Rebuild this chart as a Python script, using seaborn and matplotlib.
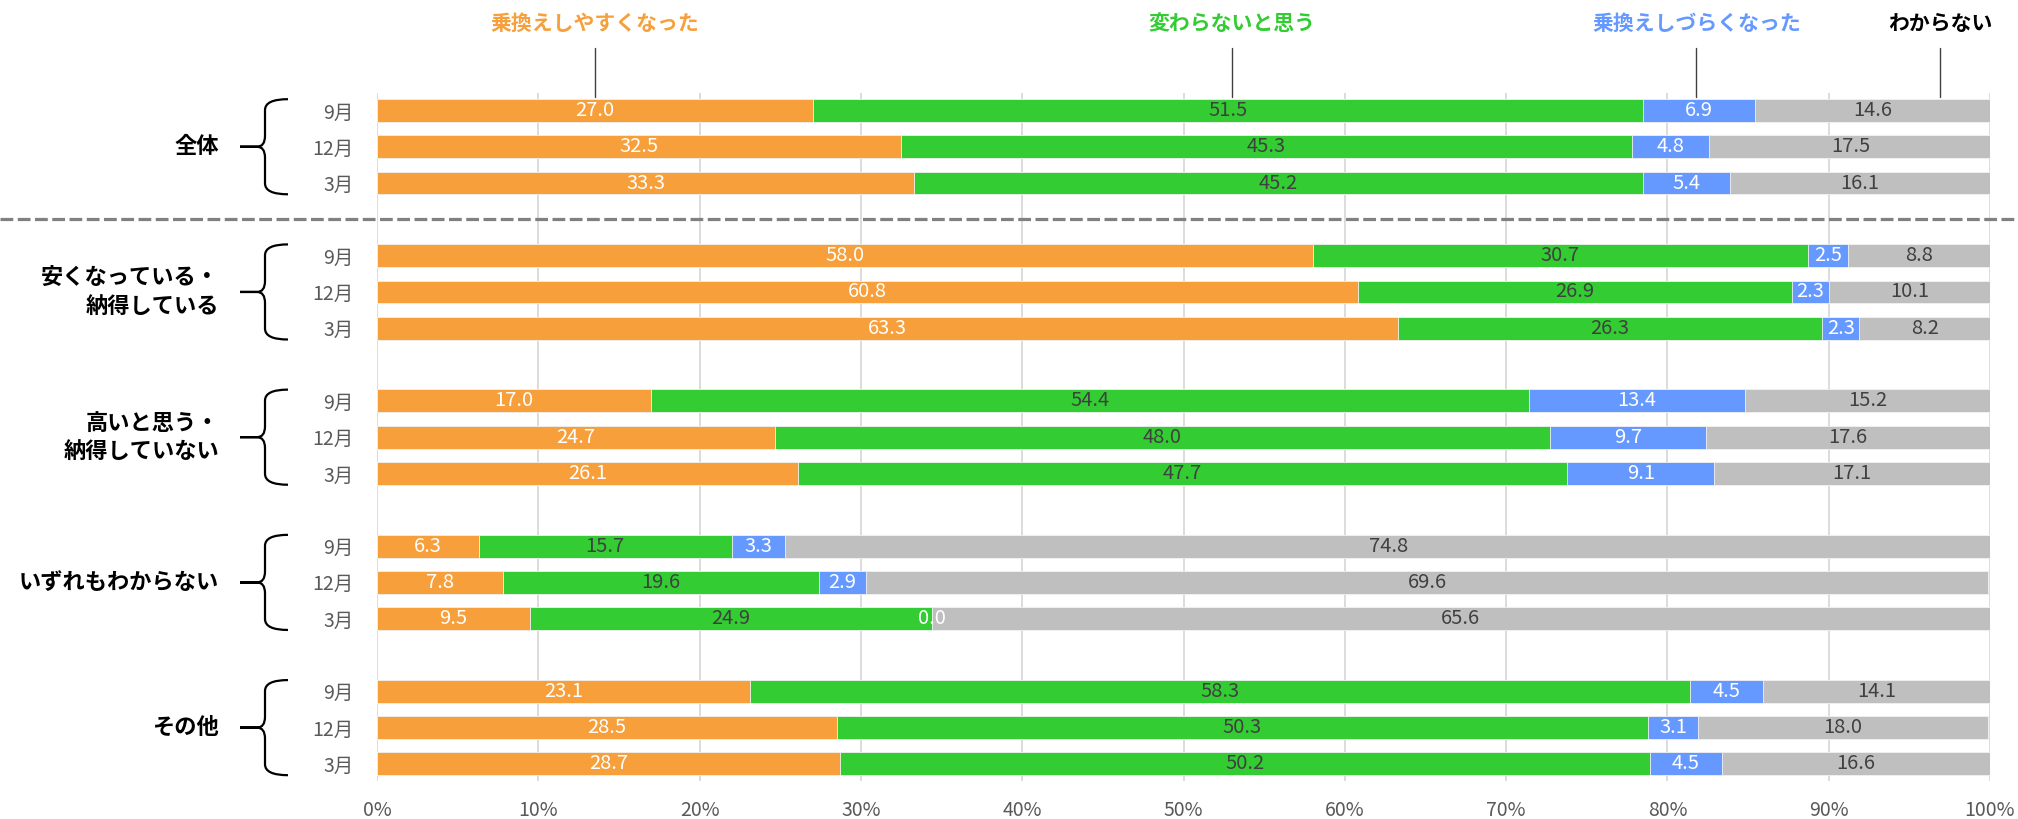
import numpy as np
import pandas as pd
import matplotlib
matplotlib.use("Agg")
import matplotlib.pyplot as plt
import matplotlib.transforms as mtransforms
from matplotlib.path import Path
from matplotlib.patches import PathPatch
import seaborn as sns

# ---------------- data ----------------
groups = ["全体", "安くなっている・\n納得している", "高いと思う・\n納得していない", "いずれもわからない", "その他"]
months = ["9月", "12月", "3月"]
series = ["乗換えしやすくなった", "変わらないと思う", "乗換えしづらくなった", "わからない"]

easier = [27.0, 32.5, 33.3, 58.0, 60.8, 63.3, 17.0, 24.7, 26.1, 6.3, 7.8, 9.5, 23.1, 28.5, 28.7]
same = [51.5, 45.3, 45.2, 30.7, 26.9, 26.3, 54.4, 48.0, 47.7, 15.7, 19.6, 24.9, 58.3, 50.3, 50.2]
harder = [6.9, 4.8, 5.4, 2.5, 2.3, 2.3, 13.4, 9.7, 9.1, 3.3, 2.9, 0.0, 4.5, 3.1, 4.5]
unknown = [14.6, 17.5, 16.1, 8.8, 10.1, 8.2, 15.2, 17.6, 17.1, 74.8, 69.6, 65.6, 14.1, 18.0, 16.6]

xticks = [0, 10, 20, 30, 40, 50, 60, 70, 80, 90, 100]
xticklabels = [f"{t}%" for t in xticks]

colors = ["#F79F3B", "#33CC33", "#6699FF", "#BFBFBF"]
label_colors = ["white", "#404040", "white", "#404040"]
legend_colors = ["#F79F3B", "#33CC33", "#6699FF", "#000000"]
legend_x = [13.5, 53.0, 81.8, 96.9]

# ---------------- style ----------------
sns.set_style("white")
plt.rcParams["font.family"] = ["Noto Sans CJK JP", "DejaVu Sans"]

W, H = 2018, 819
fig = plt.figure(figsize=(W / 100, H / 100), dpi=100)
ax_left, ax_right, ax_top, ax_bot = 377, 1990, 93, 781
ax = fig.add_axes([ax_left / W, (H - ax_bot) / H, (ax_right - ax_left) / W, (ax_bot - ax_top) / H])

# positions: 3 bars per group, one empty slot between groups
pos = []
for g in range(len(groups)):
    for m in range(len(months)):
        pos.append(g * 4 + m)
pos = np.array(pos, dtype=float)

vals = np.array([easier, same, harder, unknown])
cum = np.cumsum(vals, axis=0)
df = pd.DataFrame({"pos": pos})
for k in range(4):
    df[f"cum{k}"] = cum[k]

# gridlines behind
for t in xticks:
    ax.axvline(t, color="#D9D9D9", lw=1.3, zorder=0)

# stacked bars: draw from largest cumulative down
for k in reversed(range(4)):
    sns.barplot(data=df, x=f"cum{k}", y="pos", orient="h", native_scale=True,
                color=colors[k], saturation=1, width=0.63, errorbar=None,
                edgecolor="#F2F2F2", linewidth=0.6, ax=ax, zorder=2)

# value labels
for k in range(4):
    starts = cum[k] - vals[k]
    for i in range(len(pos)):
        ax.text(starts[i] + vals[k][i] / 2, pos[i], f"{vals[k][i]:.1f}",
                ha="center", va="center", color=label_colors[k], fontsize=14.5, zorder=5)

ax.set_xlim(0, 100)
ax.set_ylim(18.47, -0.48)
ax.set_xticks(xticks)
ax.set_xticklabels(xticklabels, fontsize=14, color="#595959")
ax.set_yticks(pos)
ax.set_yticklabels(months * len(groups), fontsize=14, color="#595959")
ax.tick_params(axis="x", length=0, pad=14)
ax.tick_params(axis="y", length=0, pad=17)
ax.set_xlabel("")
ax.set_ylabel("")
for s in ax.spines.values():
    s.set_visible(False)

# group labels and braces
tr_fig_data = mtransforms.blended_transform_factory(fig.transFigure, ax.transData)
x_end, x_v, x_tip = 288 / W, 265 / W, 240 / W
x_knee = 257 / W
r = 0.3
for g, name in enumerate(groups):
    mid = g * 4 + 1
    y0, y1 = mid - 1.31, mid + 1.31
    ax.text(219 / W, mid, name, transform=tr_fig_data, ha="right", va="center",
            fontsize=16, fontweight="bold", color="black", linespacing=1.3,
            multialignment="right", clip_on=False)
    verts = [
        (x_end, y0), (x_v, y0), (x_v, y0 + r),
        (x_v, mid - r), (x_v, mid), (x_knee, mid),
        (x_tip, mid),
        (x_knee, mid),
        (x_v, mid), (x_v, mid + r),
        (x_v, y1 - r), (x_v, y1), (x_end, y1),
    ]
    codes = [
        Path.MOVETO, Path.CURVE3, Path.CURVE3,
        Path.LINETO, Path.CURVE3, Path.CURVE3,
        Path.LINETO,
        Path.LINETO,
        Path.CURVE3, Path.CURVE3,
        Path.LINETO, Path.CURVE3, Path.CURVE3,
    ]
    patch = PathPatch(Path(verts, codes), transform=tr_fig_data, fill=False,
                      edgecolor="black", lw=1.6, clip_on=False)
    ax.add_patch(patch)

# dashed separator under 全体
ax.plot([0, 1], [3, 3], transform=tr_fig_data, color="#808080", lw=2.3,
        linestyle=(0, (4, 1.4)), clip_on=False, zorder=6)

# legend-style labels with pointer lines
tr_data_fig = mtransforms.blended_transform_factory(ax.transData, fig.transFigure)
for k in range(4):
    ax.plot([legend_x[k], legend_x[k]], [(H - 48) / H, (H - 97) / H], transform=tr_data_fig,
            color="#404040", lw=1.0, clip_on=False)
    ax.text(legend_x[k], (H - 23) / H, series[k], transform=tr_data_fig, ha="center", va="center",
            fontsize=15, fontweight="bold", color=legend_colors[k], clip_on=False)

fig.savefig("out.png", dpi=100)
